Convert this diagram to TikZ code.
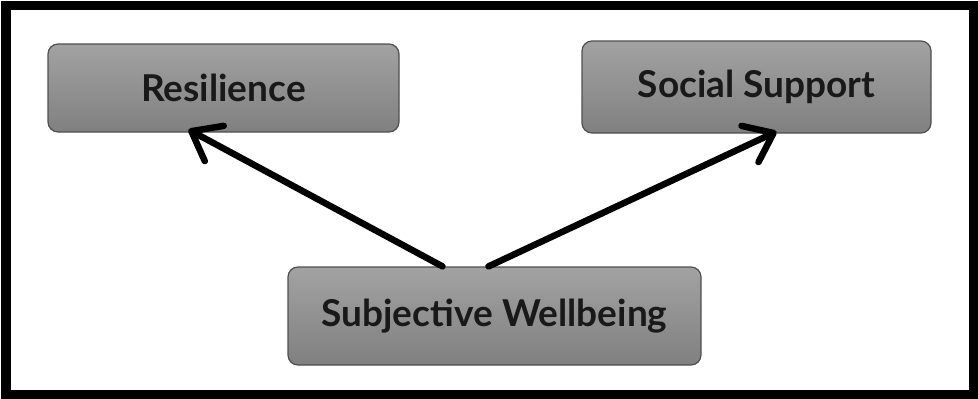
\documentclass[tikz,border=0pt]{standalone}
\usepackage{fontspec}
\setmainfont{Lato}
\usetikzlibrary{arrows.meta}
\definecolor{boxtop}{RGB}{162,162,162}
\definecolor{boxbot}{RGB}{128,128,128}
\definecolor{boxline}{RGB}{80,80,80}
\definecolor{txt}{RGB}{25,25,25}
\tikzset{
  box/.style={rectangle, rounded corners=10pt, draw=boxline, line width=1.2pt,
    top color=boxtop, bottom color=boxbot, text=txt,
    font=\fontsize{37}{42}\selectfont\bfseries, inner sep=0pt},
  arr/.style={line width=6.5pt, line cap=round, line join=round,
    -{Straight Barb[length=26pt, width=40pt, round]}},
  frame/.style={line width=9.5pt, draw=black}
}
\begin{document}
\begin{tikzpicture}[x=1pt, y=-1pt]
  \useasboundingbox (0,0) rectangle (978,399);
  \draw[frame] (6,5.5) rectangle (973.5,394.5);
  \node[box, minimum width=351pt, minimum height=88pt] (res) at (223.5,88) {Resilience};
  \node[box, minimum width=349pt, minimum height=92pt] (soc) at (756.5,87) {Social Support};
  \node[box, minimum width=413pt, minimum height=98pt] (swb) at (494.5,316) {Subjective Wellbeing};
  \draw[arr] ([xshift=-52pt]swb.north) -- ([xshift=-35pt, yshift=3pt]res.south);
  \draw[arr] ([xshift=-6pt]swb.north) -- ([xshift=20pt, yshift=2pt]soc.south);
\end{tikzpicture}
\end{document}
